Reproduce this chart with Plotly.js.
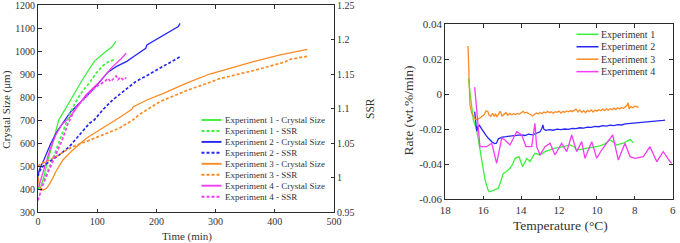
<!DOCTYPE html>
<html>
<head>
<meta charset="utf-8">
<script src="https://cdn.plot.ly/plotly-3.0.1.min.js"></script>
<style>
  html, body { margin: 0; padding: 0; background: #fff; }
  #chart { width: 680px; height: 243px; }
</style>
</head>
<body>
<div id="chart"></div>
<script>
// ---- Crystal size (µm) and SSR vs time (min) ----
const exp1SizeTime = [0, 5, 10, 15, 22, 30, 35, 42, 50, 58, 75, 90, 93, 95, 110, 125, 130, 131];
const exp1Size     = [400, 410, 455, 510, 572, 652, 700, 730, 763, 800, 875, 935, 948, 955, 988, 1018, 1035, 1042];
const exp1SsrTime  = [0, 5, 10, 15, 20, 27, 35, 41, 48, 55, 64, 75, 87, 98, 109, 120, 129];
const exp1Ssr      = [0.9833, 0.9883, 0.9967, 1.0067, 1.0167, 1.0317, 1.0500, 1.0650, 1.0800, 1.0950, 1.1100, 1.1250, 1.1373, 1.1510, 1.1617, 1.1683, 1.1707];

const exp2SizeTime = [0, 3, 10, 21, 32, 45, 55, 61, 75, 92, 109, 116, 118, 132, 150, 163, 182, 184, 200, 220, 237, 240];
const exp2Size     = [462, 488, 527, 595, 650, 700, 735, 750, 787, 830, 880, 900, 908, 932, 955, 978, 1012, 1026, 1050, 1080, 1106, 1120];
const exp2SsrTime  = [0, 2, 8, 19, 36, 53, 70, 87, 95, 109, 126, 143, 165, 185, 206, 225, 240];
const exp2Ssr      = [1.0017, 1.0083, 1.0157, 1.0230, 1.0327, 1.0447, 1.0617, 1.0787, 1.0833, 1.0977, 1.1123, 1.1243, 1.1390, 1.1483, 1.1583, 1.1667, 1.1750];

const exp3SizeTime = [0, 2, 5, 9, 14, 19, 25, 30, 42, 59, 81, 109, 137, 158, 161, 184, 212, 251, 288, 290, 324, 364, 409, 455];
const exp3Size     = [455, 420, 398, 395, 402, 420, 448, 475, 526, 570, 620, 664, 710, 745, 758, 787, 816, 860, 895, 900, 925, 954, 983, 1007];
const exp3SsrTime  = [0, 5, 14, 30, 47, 59, 81, 109, 137, 160, 172, 206, 251, 293, 307, 364, 417, 426, 457];
const exp3Ssr      = [1.0167, 1.0200, 1.0233, 1.0300, 1.0393, 1.0447, 1.0520, 1.0617, 1.0713, 1.0833, 1.0917, 1.1100, 1.1260, 1.1387, 1.1433, 1.1550, 1.1673, 1.1713, 1.1760];

const exp4SizeTime = [0, 5, 10, 20, 30, 40, 53, 64, 81, 104, 126, 140, 149];
const exp4Size     = [400, 440, 490, 570, 635, 680, 710, 751, 809, 867, 932, 965, 990];
const exp4SsrTime  = [0, 3, 7, 14, 21, 30, 41, 50, 58, 64, 76, 87, 98, 105, 109, 114, 118, 121, 123, 127, 132, 135, 137, 140, 143, 146, 149];
const exp4Ssr      = [0.9667, 0.9750, 0.9867, 1.0017, 1.0160, 1.0350, 1.0547, 1.0767, 1.0917, 1.1017, 1.1123, 1.1220, 1.1317, 1.1350, 1.1373, 1.1400, 1.1437, 1.1407, 1.1390, 1.1427, 1.1470, 1.1417, 1.1437, 1.1453, 1.1420, 1.1447, 1.1433];

// ---- Rate (wt.%/min) vs temperature (°C) ----
const rate1Temp = [16.78, 16.6, 16.52, 16.34, 16.2, 16.08, 15.9, 15.75, 15.68, 15.5, 15.2, 15.05, 14.94, 14.75, 14.59, 14.45, 14.32, 14.11, 13.92, 13.7, 13.53, 13.4, 13.27, 13.0, 12.74, 12.5, 12.3, 12.0, 11.77, 11.42, 11.2, 11.07, 10.85, 10.63, 10.4, 10.19, 9.84, 9.6, 9.31, 9.1, 8.96, 8.8, 8.61, 8.4, 8.25, 8.08];
const rate1     = [0.0090, -0.0080, -0.0148, -0.0205, -0.0290, -0.0376, -0.0490, -0.0545, -0.0557, -0.0550, -0.0537, -0.0490, -0.0452, -0.0440, -0.0423, -0.0400, -0.0366, -0.0357, -0.0414, -0.0366, -0.0385, -0.0360, -0.0338, -0.0347, -0.0328, -0.0320, -0.0310, -0.0305, -0.0300, -0.0290, -0.0300, -0.0319, -0.0315, -0.0310, -0.0305, -0.0300, -0.0295, -0.0285, -0.0262, -0.0275, -0.0290, -0.0285, -0.0280, -0.0268, -0.0258, -0.0277];

const rate2Temp = [16.45, 16.38, 16.34, 16.28, 16.2, 16.1, 16.0, 15.85, 15.7, 15.55, 15.4, 15.3, 15.2, 15.1, 15.0, 14.8, 14.6, 14.4, 14.2, 14.0, 13.8, 13.6, 13.4, 13.2, 13.0, 12.9, 12.85, 12.8, 12.7, 12.5, 12.3, 12.1, 11.9, 11.7, 11.5, 11.3, 11.1, 10.9, 10.7, 10.5, 10.3, 10.1, 9.9, 9.7, 9.5, 9.3, 9.1, 8.9, 8.7, 8.5, 8.3, 8.1, 7.9, 7.7, 7.5, 7.3, 7.1, 6.9, 6.7, 6.5, 6.4];
const rate2     = [-0.0100, -0.0185, -0.0212, -0.0185, -0.0178, -0.0195, -0.0214, -0.0235, -0.0255, -0.0272, -0.0282, -0.0280, -0.0255, -0.0250, -0.0245, -0.0243, -0.0240, -0.0238, -0.0236, -0.0232, -0.0236, -0.0228, -0.0232, -0.0225, -0.0215, -0.0195, -0.0176, -0.0200, -0.0207, -0.0203, -0.0206, -0.0200, -0.0203, -0.0199, -0.0201, -0.0195, -0.0197, -0.0192, -0.0194, -0.0188, -0.0190, -0.0184, -0.0186, -0.0180, -0.0183, -0.0177, -0.0180, -0.0174, -0.0176, -0.0170, -0.0168, -0.0166, -0.0167, -0.0162, -0.0163, -0.0158, -0.0160, -0.0155, -0.0154, -0.0150, -0.0148];

const rate3Temp = [16.8, 16.75, 16.7, 16.6, 16.5, 16.43, 16.35, 16.25, 16.15, 16.05,
  15.95, 15.85, 15.75, 15.7, 15.6, 15.5, 15.42, 15.35, 15.28, 15.2,
  15.1, 15.0, 14.9, 14.8, 14.7, 14.6, 14.5, 14.4, 14.3, 14.2,
  14.1, 14.0, 13.9, 13.8, 13.7, 13.6, 13.5, 13.4, 13.3, 13.2,
  13.1, 13.0, 12.9, 12.8, 12.7, 12.6, 12.5, 12.4, 12.3, 12.2,
  12.1, 12.0, 11.9, 11.8, 11.7, 11.6, 11.5, 11.4, 11.3, 11.2,
  11.1, 11.0, 10.9, 10.8, 10.7, 10.6, 10.5, 10.4, 10.3, 10.2,
  10.1, 10.0, 9.9, 9.8, 9.7, 9.6, 9.5, 9.4, 9.3, 9.2,
  9.1, 9.0, 8.9, 8.8, 8.7, 8.6, 8.5, 8.4, 8.35, 8.3,
  8.2, 8.1, 8.0, 7.9, 7.8];
const rate3 = [0.0275, 0.008, -0.006, -0.011, -0.0135, -0.0142, -0.0145, -0.0140, -0.0135, -0.0125,
  -0.0118, -0.0095, -0.0100, -0.0118, -0.0126, -0.0110, -0.0128, -0.0112, -0.0130, -0.0116,
  -0.0098, -0.0125, -0.0115, -0.0105, -0.0120, -0.0110, -0.0118, -0.0112, -0.0116, -0.0110,
  -0.0115, -0.0105, -0.0098, -0.0108, -0.0103, -0.0112, -0.0116, -0.0125, -0.0118, -0.0108,
  -0.0112, -0.0105, -0.0112, -0.0102, -0.0108, -0.0098, -0.0106, -0.0101, -0.0109, -0.0100,
  -0.0104, -0.0097, -0.0108, -0.0099, -0.0103, -0.0096, -0.0101, -0.0094, -0.0100, -0.0092,
  -0.0086, -0.0102, -0.0090, -0.0104, -0.0094, -0.0106, -0.0093, -0.0100, -0.0090, -0.0102,
  -0.0091, -0.0097, -0.0088, -0.0095, -0.0086, -0.0094, -0.0084, -0.0092, -0.0083, -0.0089,
  -0.0080, -0.0087, -0.0078, -0.0085, -0.0076, -0.0082, -0.0074, -0.0062, -0.0050, -0.0084,
  -0.0070, -0.0078, -0.0069, -0.0073, -0.0075];

const rate4Temp = [16.45, 16.3, 16.17, 15.82, 15.55, 15.29, 15.02, 14.85, 14.59, 14.23, 13.97, 13.74, 13.44, 13.27, 13.18, 13.0, 12.74, 12.47, 12.21, 11.86, 11.59, 11.33, 11.07, 10.8, 10.63, 10.27, 10.01, 9.75, 9.48, 9.17, 8.87, 8.52, 8.25, 7.99, 7.55, 7.2, 6.84, 6.5, 6.14, 6.05];
const rate4     = [0.0040, -0.0150, -0.0300, -0.0300, -0.0280, -0.0395, -0.0250, -0.0262, -0.0290, -0.0214, -0.0233, -0.0300, -0.0300, -0.0167, -0.0300, -0.0347, -0.0300, -0.0280, -0.0347, -0.0280, -0.0328, -0.0233, -0.0328, -0.0271, -0.0366, -0.0271, -0.0366, -0.0319, -0.0280, -0.0233, -0.0376, -0.0280, -0.0357, -0.0366, -0.0357, -0.0300, -0.0385, -0.0328, -0.0385, -0.0395];

// ---- labels ----
const sizeLegend = ['Experiment 1 - Crystal Size', 'Experiment 1 - SSR', 'Experiment 2 - Crystal Size', 'Experiment 2 - SSR',
                    'Experiment 3 - Crystal Size', 'Experiment 3 - SSR', 'Experiment 4 - Crystal Size', 'Experiment 4 - SSR'];
const rateLegend = ['Experiment 1', 'Experiment 2', 'Experiment 3', 'Experiment 4'];
const timeTicks = [0, 100, 200, 300, 400, 500];
const sizeTicks = [300, 400, 500, 600, 700, 800, 900, 1000, 1100, 1200];
const ssrTickVals = [0.95, 1.0, 1.05, 1.1, 1.15, 1.2, 1.25];
const ssrTickText = ['0.95', '1', '1.05', '1.1', '1.15', '1.2', '1.25'];
const tempTicks = [18, 16, 14, 12, 10, 8, 6];
const rateTickVals = [0.04, 0.02, 0, -0.02, -0.04, -0.06];
const rateTickText = ['0.04', '0.02', '0', '-0.02', '-0.04', '-0.06'];

const colors = ['#3cf03c', '#2626f5', '#fb8b24', '#f53cf5'];
const FONT = '"Liberation Serif", "Times New Roman", serif';
const AXC = '#2b2b2b';

const sizeSeries = [
  [exp1SizeTime, exp1Size, exp1SsrTime, exp1Ssr],
  [exp2SizeTime, exp2Size, exp2SsrTime, exp2Ssr],
  [exp3SizeTime, exp3Size, exp3SsrTime, exp3Ssr],
  [exp4SizeTime, exp4Size, exp4SsrTime, exp4Ssr]
];
const rateSeries = [[rate1Temp, rate1], [rate2Temp, rate2], [rate3Temp, rate3], [rate4Temp, rate4]];

const SOLID_W = 1.3, DASH_W = 1.7, DASH = '3px,2px';

const traces = [];
sizeSeries.forEach((s, i) => {
  traces.push({x: s[0], y: s[1], xaxis: 'x', yaxis: 'y', mode: 'lines', name: sizeLegend[2 * i],
               line: {color: colors[i], width: SOLID_W}});
  traces.push({x: s[2], y: s[3], xaxis: 'x', yaxis: 'y2', mode: 'lines', name: sizeLegend[2 * i + 1],
               line: {color: colors[i], width: DASH_W, dash: DASH}});
});
rateSeries.forEach((s, i) => {
  traces.push({x: s[0], y: s[1], xaxis: 'x2', yaxis: 'y3', mode: 'lines', name: rateLegend[i],
               line: {color: colors[i], width: SOLID_W}});
});

// Hand-placed legends (compact row spacing)
const shapes = [];
const annotations = [];
const H = 243, W = 680;
sizeLegend.forEach((label, k) => {
  const yp = 1 - (120 + k * 10.95) / H;
  const ci = Math.floor(k / 2);
  const dashed = k % 2 === 1;
  shapes.push({type: 'line', xref: 'paper', yref: 'paper', x0: 201.5 / W, x1: 221.5 / W, y0: yp, y1: yp,
               line: {color: colors[ci], width: dashed ? DASH_W + 0.3 : SOLID_W + 0.6, dash: dashed ? DASH : 'solid'}});
  annotations.push({xref: 'paper', yref: 'paper', x: 222.5 / W, y: yp, xanchor: 'left', yanchor: 'middle',
                    text: label, showarrow: false, font: {family: FONT, size: 9, color: '#333'}});
});
rateLegend.forEach((label, k) => {
  const yp = 1 - (34.3 + k * 12.45) / H;
  shapes.push({type: 'line', xref: 'paper', yref: 'paper', x0: 576.5 / W, x1: 598.5 / W, y0: yp, y1: yp,
               line: {color: colors[k], width: SOLID_W + 0.2}});
  annotations.push({xref: 'paper', yref: 'paper', x: 599 / W, y: yp, xanchor: 'left', yanchor: 'middle',
                    text: label, showarrow: false, font: {family: FONT, size: 10, color: '#333'}});
});

// Axis titles
const titles = [
  {text: 'Crystal Size (μm)', x: 6.7, y: 110, angle: -90, size: 11},
  {text: 'SSR', x: 370, y: 108, angle: -90, size: 11.5},
  {text: 'Time (min)', x: 187, y: 236, angle: 0, size: 11},
  {text: 'Rate (wt.%/min)', x: 407.5, y: 111, angle: -90, size: 13.5},
  {text: 'Temperature (°C)', x: 560, y: 225, angle: 0, size: 13.5}
];
titles.forEach(t => {
  annotations.push({xref: 'paper', yref: 'paper', x: t.x / W, y: 1 - t.y / H, xanchor: 'center', yanchor: 'middle',
                    text: t.text, textangle: t.angle, showarrow: false, font: {family: FONT, size: t.size, color: '#333'}});
});

const axBase = {showline: true, linecolor: AXC, linewidth: 1, ticks: 'inside', ticklen: 3.5, tickcolor: AXC,
                showgrid: false, zeroline: false, ticklabeloverflow: 'allow',
                tickfont: {family: FONT, size: 10, color: '#333'}};

const layout = {
  width: W, height: H,
  margin: {l: 0, r: 0, t: 0, b: 0},
  paper_bgcolor: '#fff', plot_bgcolor: '#fff',
  showlegend: false,
  xaxis: Object.assign({}, axBase, {domain: [38 / W, 334 / W], range: [0, 500], tickvals: timeTicks,
                                    mirror: 'ticks', anchor: 'y'}),
  yaxis: Object.assign({}, axBase, {domain: [(H - 212) / H, (H - 5) / H], range: [300, 1200], tickvals: sizeTicks,
                                    anchor: 'x'}),
  yaxis2: Object.assign({}, axBase, {overlaying: 'y', side: 'right', anchor: 'x', range: [0.95, 1.25],
                                     tickvals: ssrTickVals, ticktext: ssrTickText}),
  xaxis2: Object.assign({}, axBase, {domain: [445.3 / W, 672.7 / W], range: [18, 6], tickvals: tempTicks,
                                     mirror: 'ticks', anchor: 'y3', tickfont: {family: FONT, size: 11, color: '#333'}}),
  yaxis3: Object.assign({}, axBase, {domain: [(H - 199.3) / H, (H - 24) / H], range: [-0.06, 0.04],
                                     tickvals: rateTickVals, ticktext: rateTickText, mirror: 'ticks', anchor: 'x2',
                                     tickfont: {family: FONT, size: 11, color: '#333'}}),
  shapes: shapes,
  annotations: annotations
};

Plotly.newPlot('chart', traces, layout, {staticPlot: true, displayModeBar: false});
</script>
</body>
</html>
